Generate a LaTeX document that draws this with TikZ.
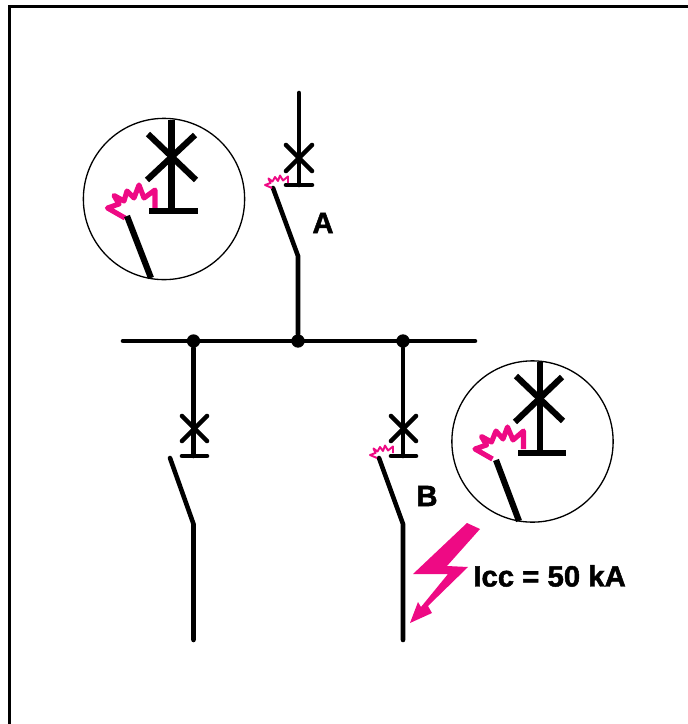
\documentclass[tikz,border=0pt]{standalone}
\usepackage{fontspec}
\newfontfamily\tagfont{Liberation Sans Bold}[FakeBold=1.6]
\usepackage{tikz}
\usetikzlibrary{positioning, calc}
\definecolor{arcpink}{HTML}{EE0A84}
\tikzset{
	wire/.style={line width=2.6pt,line cap=round},
	zoomwire/.style={line width=3.5pt},
	lens/.style={line width=0.75pt},
	frameline/.style={line width=1.7pt},
	sparksmall/.style={draw=arcpink,line width=1.1pt,line join=round},
	sparklarge/.style={draw=arcpink,line width=2.9pt,line join=round},
	junction/.style={circle,fill=black,inner sep=0pt,minimum size=7.6pt},
	tag/.style={font=\tagfont\fontsize{16.7}{16.7}\selectfont,inner sep=0pt}
}
\begin{document}
\begin{tikzpicture}[x=0.02cm,y=-0.02cm]
	\useasboundingbox (0,0) rectangle (688,724);
	\draw[frameline] (688,6.5) -- (9.5,6.5) -- (9.5,724);
	%busbar
	\node[junction] (J1) at (193.5,341) {};
	\node[junction] (J2) at (298,341) {};
	\node[junction] (J3) at (403,341) {};
	\coordinate (busL) at (123,341);
	\coordinate (busR) at (475,341);
	\draw[wire] (busL) -- (busR);
	%feeder A
	\coordinate (Atop) at (299,93);
	\coordinate (Abar) at (299,185);
	\coordinate (Ablade) at (273,188);
	\coordinate (Aknee) at (298,256);
	\draw[wire] (Atop) -- (Abar);
	\draw[wire] (286,185) -- (312,185);
	\draw[wire] (286,145) -- (312,171);
	\draw[wire] (286,171) -- (312,145);
	\draw[wire] (Ablade) -- (Aknee) -- (J2);
	\draw[sparksmall] (272,188) -- (265,185) -- (270.5,183) -- (268.5,178.5) -- (272.5,181.5) -- (275,177) -- (278,181) -- (280,175.5) -- (283,180.5) -- (288,176.5) -- (288,183);
	\node[tag] (A) at (323,223) {A};
	%left feeder
	\coordinate (Cbar) at (193.5,456);
	\coordinate (Cblade) at (170,458);
	\coordinate (Cknee) at (193.5,524);
	\coordinate (Cend) at (193.5,640);
	\draw[wire] (J1) -- (Cbar);
	\draw[wire] (182,456) -- (207,456);
	\draw[wire] (182,416) -- (207,441);
	\draw[wire] (182,441) -- (207,416);
	\draw[wire] (Cblade) -- (Cknee) -- (Cend);
	%feeder B
	\coordinate (Bbar) at (403,456);
	\coordinate (Bblade) at (379,458);
	\coordinate (Bknee) at (403,524);
	\coordinate (Bend) at (403,640);
	\draw[wire] (J3) -- (Bbar);
	\draw[wire] (391,456) -- (416,456);
	\draw[wire] (391,416) -- (416,441);
	\draw[wire] (391,441) -- (416,416);
	\draw[wire] (Bblade) -- (Bknee) -- (Bend);
	\draw[sparksmall] (377,458) -- (370,455) -- (375.5,453) -- (373.5,448.5) -- (377.5,451.5) -- (380,447) -- (383,451) -- (385,445.5) -- (388,450.5) -- (393,446.5) -- (393,453);
	\node[tag] (B) at (427,496) {B};
	%zoom on A
	\node[circle,draw,lens,inner sep=0pt,minimum size=91.8pt] (lensA) at (164,199) {};
	\draw[sparklarge] (125,218) -- (107.5,208) -- (119,204) -- (114,195.5) -- (124,201) -- (127,191) -- (134,198) -- (139,185) -- (144,198) -- (155,190) -- (155,208);
	\draw[zoomwire] (171.5,120) -- (171.5,211);
	\draw[zoomwire] (149,211) -- (198,211);
	\draw[zoomwire] (148,134) -- (196,180);
	\draw[zoomwire] (147,180) -- (195,135);
	\draw[zoomwire] (127,216) -- (151,278);
	%zoom on B
	\node[circle,draw,lens,inner sep=0pt,minimum size=91.8pt] (lensB) at (532.5,441.5) {};
	\draw[sparklarge] (492.5,459) -- (475,449) -- (486.5,445) -- (481.5,436.5) -- (491.5,442) -- (496,431) -- (503,439) -- (507.5,427) -- (513,440) -- (523.5,431) -- (523.5,449);
	\draw[zoomwire] (540,362) -- (540,453);
	\draw[zoomwire] (518,453) -- (566,453);
	\draw[zoomwire] (516,376) -- (563,421);
	\draw[zoomwire] (515,422) -- (562,377);
	\draw[zoomwire] (496,460) -- (519,521);
	%fault
	\fill[arcpink] (467,523) -- (480,529) -- (447,566) -- (468,567) -- (428,606) -- (432,613) -- (410,623) -- (418,602) -- (421,607) -- (448,574) -- (413,574) -- cycle;
	\node[tag,anchor=west] (Icc) at (473,576) {Icc = 50 kA};
\end{tikzpicture}
\end{document}
